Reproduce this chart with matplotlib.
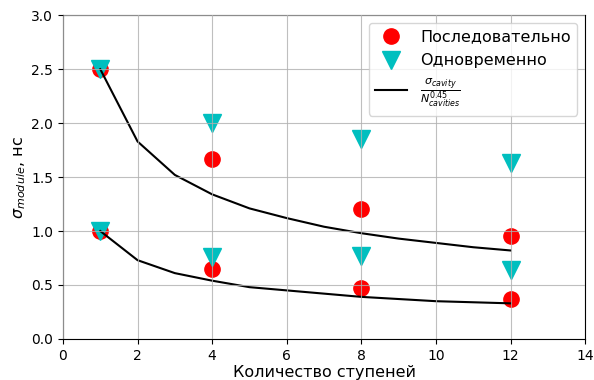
import matplotlib
matplotlib.use('Agg')
import matplotlib.pyplot as plt

# данные
x_pts = [1, 4, 8, 12]
seq_hi = [2.5, 1.67, 1.2, 0.95]
seq_lo = [1.0, 0.65, 0.47, 0.37]
sim_hi = [2.5, 2.0, 1.85, 1.63]
sim_lo = [1.0, 0.76, 0.77, 0.64]

n_cav = [1, 2, 3, 4, 5, 6, 7, 8, 9, 10, 11, 12]
fit_hi = [2.5, 1.83, 1.52, 1.34, 1.21, 1.12, 1.04, 0.98, 0.93, 0.89, 0.85, 0.82]
fit_lo = [1.0, 0.73, 0.61, 0.54, 0.48, 0.45, 0.42, 0.39, 0.37, 0.35, 0.34, 0.33]

fig, ax = plt.subplots(figsize=(5.94, 3.8), dpi=100)

ax.plot(x_pts, seq_hi, 'o', color='red', markersize=11, label='Последовательно')
ax.plot(x_pts, seq_lo, 'o', color='red', markersize=11)
ax.plot(x_pts, sim_hi, 'v', color='c', markersize=13, label='Одновременно')
ax.plot(x_pts, sim_lo, 'v', color='c', markersize=13)
ax.plot(n_cav, fit_hi, 'k-', lw=1.5,
        label=r'$\frac{\sigma_{cavity}}{N_{cavities}^{0.45}}$')
ax.plot(n_cav, fit_lo, 'k-', lw=1.5)

ax.set_xlim(0, 14)
ax.set_ylim(0, 3)
ax.set_axisbelow(False)
ax.grid(True, color='#b0b0b0', lw=0.8, alpha=0.8)
ax.set_xlabel('Количество ступеней', fontsize=11.5, labelpad=2)
ax.set_ylabel(r'$\sigma_{module}$, нс', fontsize=11.5, labelpad=2)
ax.legend(fontsize=11.5, loc='upper right', labelspacing=0.55)

plt.subplots_adjust(left=0.106, right=0.985, top=0.96, bottom=0.108)
plt.savefig('out.png')
